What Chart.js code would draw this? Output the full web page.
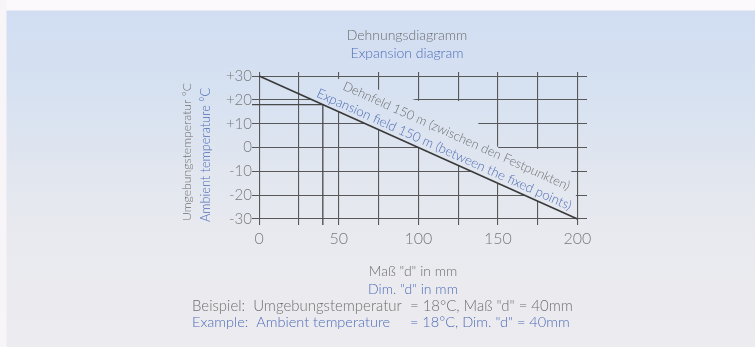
<!DOCTYPE html>
<html><head><meta charset="utf-8">
<script src="https://cdn.jsdelivr.net/npm/chart.js@4.4.1/dist/chart.umd.min.js"></script>
<style>
html,body{margin:0;padding:0;}
body{width:755px;height:347px;overflow:hidden;
background:
 linear-gradient(to right,#f7f5f8 0px,#f7f5f8 6px,rgba(0,0,0,0) 7px),
 linear-gradient(to bottom,#fbf9fb 0px,#fbf9fb 10px,#d1def2 11px,#d6e1f1 90px,#e1e6ef 170px,#e9eaef 240px,#ecebef 347px);}
canvas{position:absolute;left:0;top:0;}
</style></head>
<body><canvas id="c" width="755" height="347"></canvas>
<script>
// ---- data ----
const xTicks = [0, 25, 50, 75, 100, 125, 150, 175, 200];
const xTickLabels = { 0: '0', 50: '50', 100: '100', 150: '150', 200: '200' };
const yTicks = [-30, -20, -10, 0, 10, 20, 30];
const yTickLabels = { '-30': '-30', '-20': '-20', '-10': '-10', '0': '0', '10': '+10', '20': '+20', '30': '+30' };
const lineX = [0, 200];
const lineY = [30, -30];
const exampleTemp = 18;
const exampleDim = 40;
const titleDe = 'Dehnungsdiagramm';
const titleEn = 'Expansion diagram';
const yTitleDe = 'Umgebungstemperatur °C';
const yTitleEn = 'Ambient temperature °C';
const xTitleDe = 'Maß "d" in mm';
const xTitleEn = 'Dim. "d" in mm';
const lineLabelDe = 'Dehnfeld 150 m (zwischen den Festpunkten)';
const lineLabelEn = 'Expansion field 150 m (between the fixed points)';
const exampleDe = 'Beispiel:  Umgebungstemperatur  = 18°C, Maß "d" = 40mm';
const exampleEn = 'Example:  Ambient temperature     = 18°C, Dim. "d" = 40mm';

// ---- style ----
const X_MIN = -4.5, X_MAX = 206, Y_MIN = -32.5, Y_MAX = 31.7;
const GRAY = '#6f6f6f', BLUE = '#4f6db8', FONT = 'Lato, "Open Sans", sans-serif';
// outline of the blank band behind the line label (decoration, in axis units)
const MASK = [[35,29.3],[51,28.8],[100,19.6],[126,19.5],[151,-0.6],[176,-0.6],[196.5,-10.3],[199,-12],[199,-29.7],[33,20.1]];

function bgGradient(ctx) {
  const g = ctx.createLinearGradient(0, 0, 0, 347);
  g.addColorStop(11/347, '#d1def2'); g.addColorStop(90/347, '#d6e1f1');
  g.addColorStop(170/347, '#e1e6ef'); g.addColorStop(240/347, '#e9eaef'); g.addColorStop(1, '#ecebef');
  return g;
}

function fitFont(ctx, text, width, weight) {
  ctx.font = weight + ' 100px ' + FONT;
  const w = ctx.measureText(text).width;
  const size = 100 * width / w;
  ctx.font = weight + ' ' + size.toFixed(2) + 'px ' + FONT;
  return size;
}

const textPlugin = {
  id: 'texts',
  beforeDatasetsDraw(chart) {
    const ctx = chart.ctx, xs = chart.scales.x, ys = chart.scales.y;
    ctx.save();
    ctx.beginPath();
    MASK.forEach(([x, y], i) => {
      const px = xs.getPixelForValue(x), py = ys.getPixelForValue(y);
      if (i === 0) ctx.moveTo(px, py); else ctx.lineTo(px, py);
    });
    ctx.closePath();
    ctx.fillStyle = bgGradient(ctx);
    ctx.fill();
    ctx.restore();
  },
  afterDraw(chart) {
    const ctx = chart.ctx, xs = chart.scales.x, ys = chart.scales.y;
    ctx.save();
    // top titles
    ctx.textAlign = 'center'; ctx.textBaseline = 'middle';
    ctx.font = '300 14px ' + FONT;
    ctx.fillStyle = GRAY; ctx.fillText(titleDe, 407, 35);
    ctx.fillStyle = BLUE; ctx.fillText(titleEn, 407, 53);
    // y titles
    ctx.save(); ctx.translate(187, 152); ctx.rotate(-Math.PI / 2);
    ctx.fillStyle = GRAY; fitFont(ctx, yTitleDe, 138, 300); ctx.fillText(yTitleDe, 0, 0); ctx.restore();
    ctx.save(); ctx.translate(206, 155); ctx.rotate(-Math.PI / 2);
    ctx.fillStyle = BLUE; fitFont(ctx, yTitleEn, 134, 300); ctx.fillText(yTitleEn, 0, 0); ctx.restore();
    // x titles
    ctx.font = '300 14px ' + FONT;
    ctx.fillStyle = GRAY; ctx.fillText(xTitleDe, 413, 271);
    ctx.fillStyle = BLUE; ctx.fillText(xTitleEn, 413, 289);
    // example
    ctx.textAlign = 'left';
    ctx.fillStyle = GRAY; fitFont(ctx, exampleDe, 381, 300); ctx.fillText(exampleDe, 192, 306);
    ctx.fillStyle = BLUE; fitFont(ctx, exampleEn, 378, 300); ctx.fillText(exampleEn, 192, 322);
    // labels along the line
    const x0 = xs.getPixelForValue(lineX[0]), y0 = ys.getPixelForValue(lineY[0]);
    const x1 = xs.getPixelForValue(lineX[1]), y1 = ys.getPixelForValue(lineY[1]);
    const ang = Math.atan2(y1 - y0, x1 - x0);
    const ux = Math.cos(ang), uy = Math.sin(ang);
    const nx = Math.sin(ang), ny = -Math.cos(ang);
    ctx.textBaseline = 'alphabetic';
    function along(text, start, len, off, color) {
      const px = x0 + ux * start + nx * off, py = y0 + uy * start + ny * off;
      ctx.save(); ctx.translate(px, py); ctx.rotate(ang);
      ctx.fillStyle = color; fitFont(ctx, text, len, 300); ctx.fillText(text, 0, 0);
      ctx.restore();
    }
    along(lineLabelDe, 81, 247, 22, GRAY);
    along(lineLabelEn, 60, 278, 4.5, BLUE);
    ctx.restore();
  }
};

const chart = new Chart(document.getElementById('c'), {
  type: 'scatter',
  data: {
    datasets: [
      {
        data: lineX.map((x, i) => ({ x, y: lineY[i] })),
        showLine: true, borderColor: '#3a3a3a', borderWidth: 1.6, pointRadius: 0
      },
      {
        data: [{ x: X_MIN, y: exampleTemp }, { x: exampleDim, y: exampleTemp }, { x: exampleDim, y: Y_MIN }],
        showLine: true, borderColor: '#4a4a4a', borderWidth: 1.3, pointRadius: 0
      }
    ]
  },
  options: {
    responsive: false, animation: false, devicePixelRatio: 1,
    layout: { padding: { left: 0, right: 168, top: 72, bottom: 92 } },
    plugins: { legend: { display: false }, tooltip: { enabled: false }, title: { display: false } },
    scales: {
      x: {
        type: 'linear', min: X_MIN, max: X_MAX,
        afterBuildTicks: s => { s.ticks = xTicks.map(v => ({ value: v })); },
        afterFit: s => { s.height = 30; },
        grid: { color: '#585858', lineWidth: 1.1, drawTicks: false },
        border: { display: false },
        ticks: {
          autoSkip: false, maxRotation: 0, padding: 4, color: '#7a7a7a',
          font: { family: FONT, size: 16, weight: '300' },
          callback: v => (xTickLabels[v] !== undefined ? xTickLabels[v] : '')
        }
      },
      y: {
        type: 'linear', min: Y_MIN, max: Y_MAX,
        afterBuildTicks: s => { s.ticks = yTicks.map(v => ({ value: v })); },
        afterFit: s => { s.width = 252; },
        grid: { color: '#585858', lineWidth: 1.1, drawTicks: false },
        border: { display: false },
        ticks: {
          autoSkip: false, padding: 0, color: '#7a7a7a',
          font: { family: FONT, size: 15, weight: '300' },
          callback: v => (yTickLabels[String(v)] !== undefined ? yTickLabels[String(v)] : '')
        }
      }
    }
  },
  plugins: [textPlugin]
});
</script>
</body></html>
